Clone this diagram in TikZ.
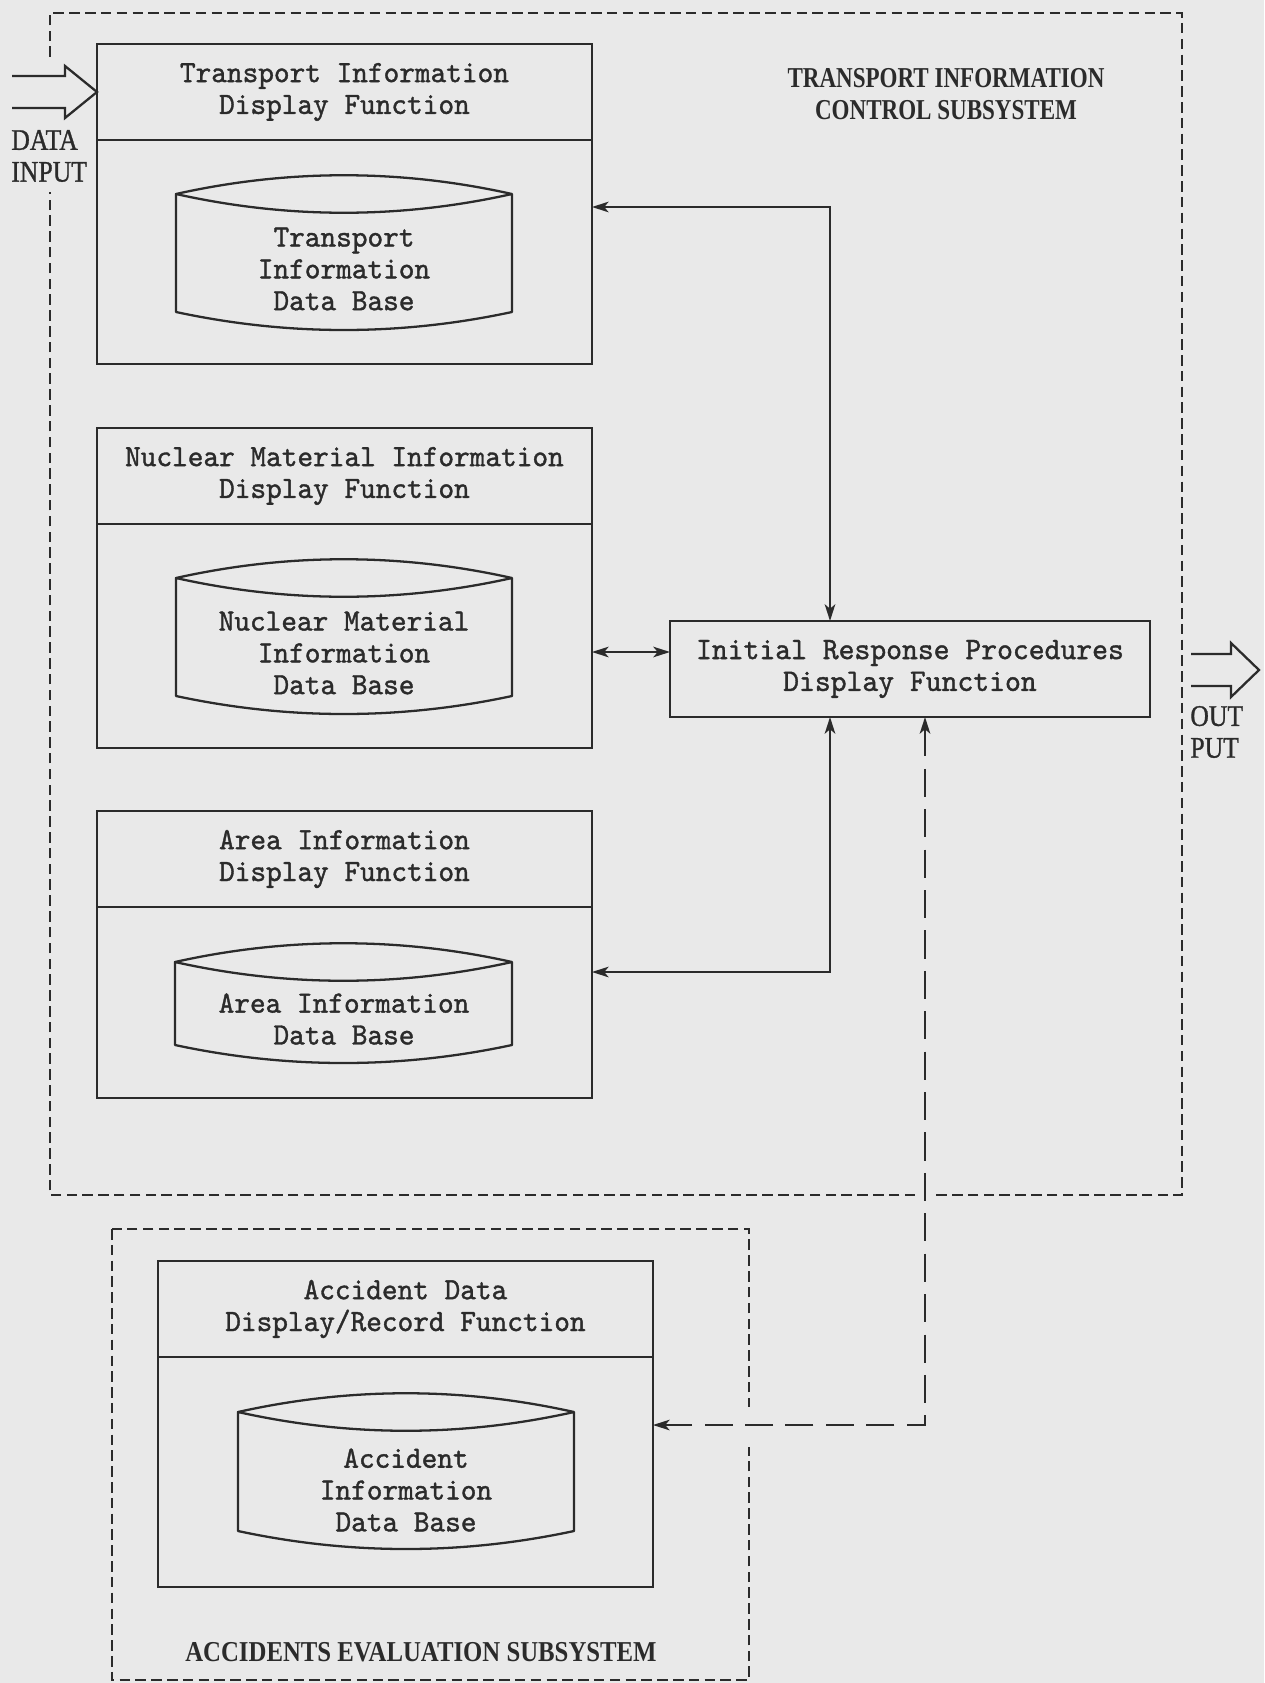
\documentclass[tikz,border=0pt]{standalone}
\usepackage{fontspec}
\setmainfont{Liberation Serif}
\setmonofont{lmmono10-regular.otf}[FakeStretch=0.965, FakeBold=1.2]
\newfontfamily\tagfont{Liberation Serif}[FakeStretch=0.86]
\newfontfamily\sidefont{Liberation Serif}[FakeStretch=0.86, FakeBold=1]
\newfontfamily\tagnarrow{Liberation Serif}[FakeStretch=0.8]
\usepackage{tikz}
\usetikzlibrary{arrows.meta, positioning, calc}
\definecolor{paper}{rgb}{0.915,0.915,0.915}
\definecolor{ink}{rgb}{0.17,0.17,0.17}

\tikzset{
	funtitle/.style = {draw=ink, line width=1.3pt, outer sep=0pt, inner sep=0pt, minimum width=9.9cm, minimum height=1.92cm, align=center, anchor=north west, text=ink, font=\ttfamily\fontsize{17.6}{18.1}\selectfont},
	funpart/.style = {draw=ink, line width=1.3pt, outer sep=0pt, inner sep=0pt, minimum width=9.9cm},
	dbtext/.style = {align=center, inner sep=0pt, text=ink, font=\ttfamily\fontsize{17.6}{18.1}\selectfont},
	dbline/.style = {draw=ink, line width=1.3pt, line join=round},
	subframe/.style = {draw=ink, line width=1pt, dash pattern=on 6pt off 3pt},
	sublabel/.style = {align=center, inner sep=0pt, text=ink, font=\tagfont\bfseries\fontsize{16.4}{18.1}\selectfont},
	sidetag/.style = {align=left, inner sep=0pt, anchor=west, text=ink, font=\sidefont\fontsize{17}{18.1}\selectfont},
	hollowarrow/.style = {draw=ink, line width=1.3pt, line join=miter},
	duplex/.style = {draw=ink, line width=1.3pt, <->},
	longdash/.style = {dash pattern=on 16pt off 7pt}
}

% data base drum: left, right, rim, bottom
\newcommand{\dbcyl}[4]{%
	\draw[dbline] (#1,#3) .. controls +(112,-25) and +(-112,-25) .. (#2,#3)
	.. controls +(-112,25) and +(112,25) .. (#1,#3) -- (#1,#4)
	.. controls +(112,24) and +(-112,24) .. (#2,#4) -- (#2,#3);}

\begin{document}
\begin{tikzpicture}[x=0.02cm, y=-0.02cm, >={Stealth[length=9.5pt,width=6pt,inset=2.5pt]}]
	\useasboundingbox (0,0) rectangle (1264,1683);
	\fill[paper] (0,0) rectangle (1264,1683);
	
	%----------------------------------------------------------------
	\draw[subframe] (50,57) -- (50,13) -- (1182,13) -- (1182,1195) -- (50,1195) -- (50,192);
	\draw[subframe] (112,1229) rectangle (749,1680);
	\fill[paper] (915,1188) rectangle (936,1202);
	\fill[paper] (744,1407) rectangle (754,1447);
	
	\node(tisub) [sublabel, font=\tagnarrow\bfseries\fontsize{16.4}{18.1}\selectfont] at (946,94) {TRANSPORT INFORMATION\\CONTROL SUBSYSTEM};
	\node(accsub) [sublabel] at (421,1652) {ACCIDENTS EVALUATION SUBSYSTEM};
	
	%----------------------------------------------------------------
	\node(tifun) [funtitle] at (97,44) {Transport Information\\Display Function};
	\node(tipart) [funpart, minimum height=4.48cm, below=0pt of tifun] {};
	\dbcyl{176}{512}{194}{312}
	\node(tidb) [dbtext] at (344,269) {Transport\\Information\\Data Base};
	
	\node(nmfun) [funtitle] at (97,428) {Nuclear Material Information\\Display Function};
	\node(nmpart) [funpart, minimum height=4.48cm, below=0pt of nmfun] {};
	\dbcyl{176}{512}{578}{696}
	\node(nmdb) [dbtext] at (344,653) {Nuclear Material\\Information\\Data Base};
	
	\node(areafun) [funtitle] at (97,811) {Area Information\\Display Function};
	\node(areapart) [funpart, minimum height=3.82cm, below=0pt of areafun] {};
	\dbcyl{175}{512}{962}{1045}
	\node(areadb) [dbtext] at (344,1019) {Area Information\\Data Base};
	
	\node(irp) [funtitle, minimum width=9.6cm, font=\ttfamily\fontsize{17.8}{18.1}\selectfont] at (670,621) {Initial Response Procedures\\Display Function};
	
	%----------------------------------------------------------------
	\node(accfun) [funtitle] at (158,1261) {Accident Data\\Display/Record Function};
	\node(accpart) [funpart, minimum height=4.6cm, below=0pt of accfun] {};
	\dbcyl{238}{574}{1412}{1531}
	\node(accdb) [dbtext] at (406,1490) {Accident\\Information\\Data Base};
	
	%----------------------------------------------------------------
	\node(datain) [sidetag] at (11,156) {DATA\\INPUT};
	\draw[hollowarrow] (12,76) -- (65,76) -- (65,66) -- (tifun.west) -- (65,118) -- (65,108) -- (12,108);
	
	\node(dataout) [sidetag] at (1190,732) {OUT\\PUT};
	\coordinate (outtip) at (1259,670);
	\draw[hollowarrow] (1191,654) -- (1231,654) -- (1231,643) -- (outtip) -- (1231,697) -- (1231,686) -- (1191,686);
	
	%----------------------------------------------------------------
	\coordinate (topbus) at (830,207);
	\draw[duplex] (topbus -| tipart.east) -| (irp.north -| topbus);
	\coordinate (midbus) at (630,652);
	\draw[duplex] (midbus -| nmpart.east) -- (midbus -| irp.west);
	\coordinate (lowbus) at (830,972);
	\draw[duplex] (irp.south -| lowbus) |- (lowbus -| areapart.east);
	\coordinate (accbus) at (925,1425);
	\draw[duplex, longdash] (irp.south -| accbus) |- (accbus -| accpart.east);
	
\end{tikzpicture}
\end{document}
